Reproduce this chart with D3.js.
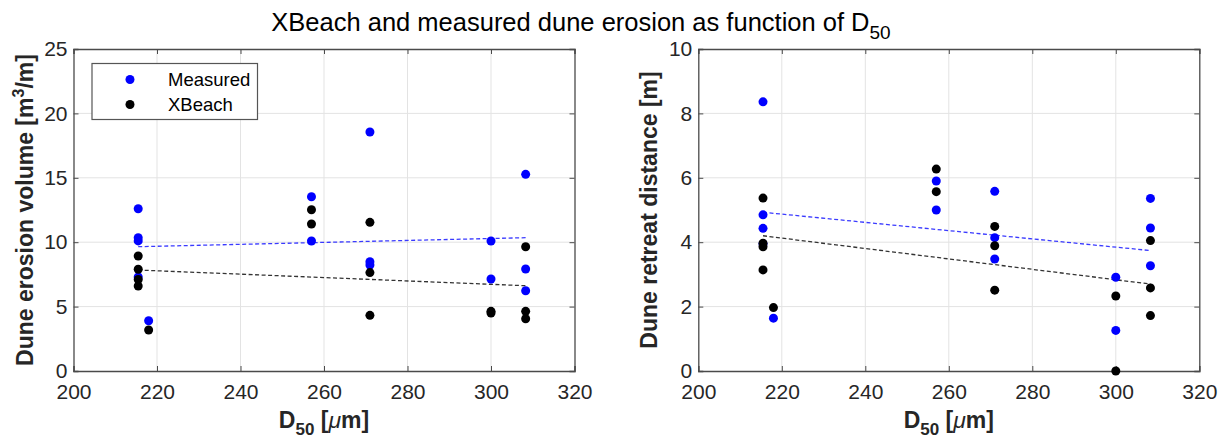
<!DOCTYPE html>
<html>
<head>
<meta charset="utf-8">
<script src="https://cdn.jsdelivr.net/npm/d3@7"></script>
<style>
  html, body { margin: 0; padding: 0; background: #fff; }
  svg { display: block; font-family: "Liberation Sans", Arial, Helvetica, sans-serif; }
</style>
</head>
<body>
<svg id="chart" width="1226" height="441"></svg>
<script>
// ---- Data ----
const d50 = [215.5, 215.5, 215.5, 215.5, 218, 257, 257, 271, 271, 271, 300, 300, 308.3, 308.3, 308.3];
const volumeMeasured = [12.6, 10.35, 10.1, 7.3, 3.9, 13.53, 10.09, 18.56, 8.49, 8.23, 10.09, 7.14, 15.27, 7.92, 6.23];
const volumeXBeach   = [8.93, 7.9, 7.1, 6.6, 3.18, 12.52, 11.41, 11.54, 7.64, 4.32, 4.63, 4.5, 9.65, 4.63, 4.06];
const retreatMeasured = [8.36, 4.85, 4.43, 3.95, 1.64, 5.9, 5.0, 5.58, 4.14, 3.48, 2.91, 1.26, 5.36, 4.44, 3.27];
const retreatXBeach   = [5.37, 3.97, 3.86, 3.14, 1.97, 6.27, 5.57, 4.49, 3.89, 2.51, 2.33, 0.0, 4.05, 2.58, 1.72];

const trendD50 = [215.5, 308.3];
const trendVolumeMeasured = [9.65, 10.35];
const trendVolumeXBeach = [7.84, 6.62];
const trendRetreatMeasured = [4.93, 3.74];
const trendRetreatXBeach = [4.20, 2.70];

const xTicks = [200, 220, 240, 260, 280, 300, 320];
const volumeTicks = [0, 5, 10, 15, 20, 25];
const retreatTicks = [0, 2, 4, 6, 8, 10];
const seriesNames = ["Measured", "XBeach"];
const seriesColors = ["#0000ff", "#000000"];

// ---- Layout ----
const svg = d3.select("#chart");
const plotTop = 49, plotBottom = 371;
const panels = [
  { left: 73.5, right: 574.5, yDomain: [0, 25], yTicks: volumeTicks,
    meas: volumeMeasured, xb: volumeXBeach, tm: trendVolumeMeasured, tx: trendVolumeXBeach,
    ylabel: ["Dune erosion volume [m", "3", "/m]"], legend: true },
  { left: 698.3, right: 1199.3, yDomain: [0, 10], yTicks: retreatTicks,
    meas: retreatMeasured, xb: retreatXBeach, tm: trendRetreatMeasured, tx: trendRetreatXBeach,
    ylabel: ["Dune retreat distance [m]"], legend: false }
];

const axisColor = "#4a4a4a";
const gridColor = "#e3e3e3";
const tickFont = 21;
const labelFont = 23;
const markerR = 4.5;

panels.forEach(p => {
  const x = d3.scaleLinear().domain([200, 320]).range([p.left, p.right]);
  const y = d3.scaleLinear().domain(p.yDomain).range([plotBottom, plotTop]);
  const g = svg.append("g");

  // grid
  g.selectAll(".gx").data(xTicks.slice(1, -1)).enter().append("line")
    .attr("x1", d => x(d)).attr("x2", d => x(d)).attr("y1", plotTop).attr("y2", plotBottom)
    .attr("stroke", gridColor).attr("stroke-width", 1);
  g.selectAll(".gy").data(p.yTicks.slice(1, -1)).enter().append("line")
    .attr("y1", d => y(d)).attr("y2", d => y(d)).attr("x1", p.left).attr("x2", p.right)
    .attr("stroke", gridColor).attr("stroke-width", 1);

  // axes via d3 axis (ticks inward)
  const xAxis = d3.axisBottom(x).tickValues(xTicks).tickSize(-5).tickPadding(8).tickFormat(d3.format("d"));
  const xAxisTop = d3.axisTop(x).tickValues(xTicks).tickSize(-5).tickFormat("");
  const yAxis = d3.axisLeft(y).tickValues(p.yTicks).tickSize(-5).tickPadding(6).tickFormat(d3.format("d"));
  const yAxisRight = d3.axisRight(y).tickValues(p.yTicks).tickSize(-5).tickFormat("");

  const gxB = g.append("g").attr("transform", `translate(0,${plotBottom})`).call(xAxis);
  const gxT = g.append("g").attr("transform", `translate(0,${plotTop})`).call(xAxisTop);
  const gyL = g.append("g").attr("transform", `translate(${p.left},0)`).call(yAxis);
  const gyR = g.append("g").attr("transform", `translate(${p.right},0)`).call(yAxisRight);
  [gxB, gxT, gyL, gyR].forEach(a => {
    a.select(".domain").attr("stroke", axisColor).attr("stroke-width", 1.3);
    a.selectAll(".tick line").attr("stroke", axisColor).attr("stroke-width", 1);
    a.selectAll(".tick text").attr("fill", "#262626").attr("font-size", tickFont)
      .attr("font-family", "Liberation Sans, Arial, sans-serif");
  });
  gxB.selectAll(".tick text").attr("dy", "0.95em");

  // trend lines
  const line = d3.line().x(d => x(d[0])).y(d => y(d[1]));
  g.append("path").datum(trendD50.map((d, i) => [d, p.tm[i]])).attr("d", line)
    .attr("fill", "none").attr("stroke", "#3a3aff").attr("stroke-width", 1.3).attr("stroke-dasharray", "4,2.5");
  g.append("path").datum(trendD50.map((d, i) => [d, p.tx[i]])).attr("d", line)
    .attr("fill", "none").attr("stroke", "#333").attr("stroke-width", 1.3).attr("stroke-dasharray", "4,2.5");

  // points
  g.selectAll(".pm").data(d50.map((d, i) => [d, p.meas[i]])).enter().append("circle")
    .attr("cx", d => x(d[0])).attr("cy", d => y(d[1])).attr("r", markerR).attr("fill", seriesColors[0]);
  g.selectAll(".px").data(d50.map((d, i) => [d, p.xb[i]])).enter().append("circle")
    .attr("cx", d => x(d[0])).attr("cy", d => y(d[1])).attr("r", markerR).attr("fill", seriesColors[1]);

  // x label
  const xl = g.append("text").attr("x", (p.left + p.right) / 2).attr("y", 428)
    .attr("text-anchor", "middle").attr("font-size", labelFont).attr("font-weight", "bold").attr("fill", "#262626");
  xl.append("tspan").text("D");
  xl.append("tspan").attr("font-size", 17).attr("dy", 7).text("50");
  xl.append("tspan").attr("dy", -7).text(" [");
  xl.append("tspan").attr("font-style", "italic").attr("font-weight", "normal").text("\u03BC");
  xl.append("tspan").text("m]");

  // y label
  const yl = g.append("text")
    .attr("transform", `translate(${p.left - 41},${(plotTop + plotBottom) / 2}) rotate(-90)`)
    .attr("text-anchor", "middle").attr("font-size", labelFont).attr("font-weight", "bold").attr("fill", "#262626");
  yl.append("tspan").text(p.ylabel[0]);
  if (p.ylabel.length > 1) {
    yl.append("tspan").attr("font-size", 16).attr("dy", -9).text(p.ylabel[1]);
    yl.append("tspan").attr("dy", 9).text(p.ylabel[2]);
  }

  // legend
  if (p.legend) {
    const lg = g.append("g");
    lg.append("rect").attr("x", 92).attr("y", 63.5).attr("width", 165.5).attr("height", 56)
      .attr("fill", "#fff").attr("stroke", "#555").attr("stroke-width", 1.2);
    seriesNames.forEach((n, i) => {
      lg.append("circle").attr("cx", 130).attr("cy", 79.5 + i * 25).attr("r", markerR).attr("fill", seriesColors[i]);
      lg.append("text").attr("x", 168).attr("y", 79.5 + i * 25).attr("dy", "0.35em")
        .attr("font-size", 18.5).attr("fill", "#000").text(n);
    });
  }
});

// title
const t = svg.append("text").attr("x", 581).attr("y", 31).attr("text-anchor", "middle")
  .attr("font-size", 25.5).attr("fill", "#000");
t.append("tspan").text("XBeach and measured dune erosion as function of D");
t.append("tspan").attr("font-size", 19).attr("dy", 8).text("50");
</script>
</body>
</html>
